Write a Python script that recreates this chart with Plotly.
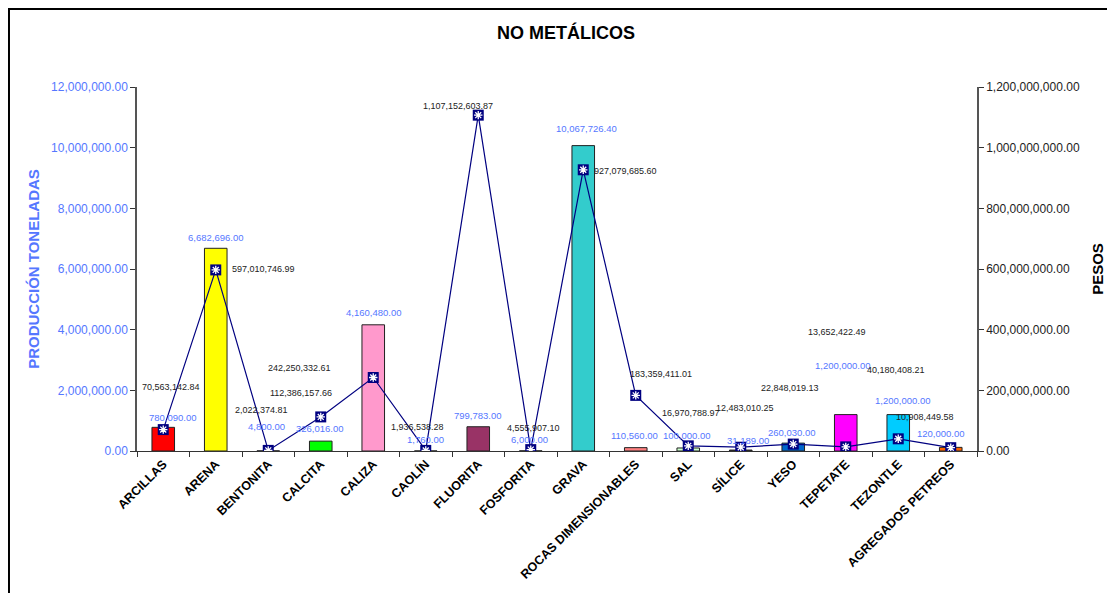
import plotly.graph_objects as go

categories = ["ARCILLAS", "ARENA", "BENTONITA", "CALCITA", "CALIZA", "CAOLÍN",
              "FLUORITA", "FOSFORITA", "GRAVA", "ROCAS DIMENSIONABLES", "SAL",
              "SÍLICE", "YESO", "TEPETATE", "TEZONTLE", "AGREGADOS PETREOS"]

toneladas = [780090.00, 6682696.00, 4800.00, 326016.00, 4160480.00, 1760.00,
             799783.00, 6000.00, 10067726.40, 110560.00, 100000.00,
             31189.00, 260030.00, 1200000.00, 1200000.00, 120000.00]

pesos = [70563142.84, 597010746.99, 2022374.81, 112386157.66, 242250332.61,
         1936538.28, 1107152603.87, 4555907.10, 927079685.60, 183359411.01,
         16970788.97, 12483010.25, 22848019.13, 13652422.49, 40180408.21,
         10908449.58]

bar_colors = ["#FF0000", "#FFFF00", "#9999FF", "#00FF00", "#FF99CC", "#FFFFCC",
              "#993366", "#CCFFFF", "#33CCCC", "#FF8080", "#CCFFCC",
              "#333333", "#0066CC", "#FF00FF", "#00CCFF", "#FF6600"]

# label placement offsets in pixels (dx, up) — styling only
ton_label_off = [(10, 10), (0, 11), (-2, 24), (-1, 13), (0, 12), (0, 11),
                 (0, 11), (-1, 11), (3, 17), (-1, 12), (-1, 12), (7, 10),
                 (-1, 11), (-3, 49), (4, 14), (-10, 14)]
peso_label_off = [(8, 43), (48, 1), (-7, 40), (-20, 24), (-74, 10), (-8, 23),
                  (-20, 9), (3, 22), (42, -1), (25, 21), (3, 33), (4, 39),
                  (-3, 56), (-9, 115), (-2, 69), (-26, 31)]

FONT = "Arial, 'Liberation Sans', sans-serif"
BLUE = "#5577FF"
NAVY = "#000080"

fig = go.Figure()
fig.add_trace(go.Bar(
    x=categories, y=toneladas, marker=dict(color=bar_colors, line=dict(color="#222222", width=1)),
    width=0.43, yaxis="y", showlegend=False, hoverinfo="skip"))
fig.add_trace(go.Scatter(
    x=categories, y=pesos, yaxis="y2", mode="lines+markers",
    line=dict(color=NAVY, width=1.2),
    marker=dict(symbol="square", size=11, color=NAVY, line=dict(width=0)),
    showlegend=False, hoverinfo="skip"))
fig.add_trace(go.Scatter(
    x=categories, y=pesos, yaxis="y2", mode="markers",
    marker=dict(symbol="asterisk-open", size=7, color="white", line=dict(color="white", width=1.3)),
    showlegend=False, hoverinfo="skip"))

annotations = []
for c, v, (dx, up) in zip(categories, toneladas, ton_label_off):
    annotations.append(dict(x=c, y=v, xref="x", yref="y", text=f"{v:,.2f}", showarrow=False,
                            xshift=dx, yshift=up, font=dict(family=FONT, size=9.5, color=BLUE)))
for c, v, (dx, up) in zip(categories, pesos, peso_label_off):
    annotations.append(dict(x=c, y=v, xref="x", yref="y2", text=f"{v:,.2f}", showarrow=False,
                            xshift=dx, yshift=up, font=dict(family=FONT, size=9, color="#222222")))

fig.update_layout(
    width=1115, height=593,
    margin=dict(l=129, r=146, t=79, b=150),
    paper_bgcolor="white", plot_bgcolor="white",
    font=dict(family=FONT),
    title=dict(text="<b>NO METÁLICOS</b>", x=0.5004, xanchor="center", y=0.958, yanchor="middle",
               font=dict(family=FONT, size=18, color="black")),
    xaxis=dict(type="category", range=[-0.5, len(categories) - 0.5],
               showline=True, linecolor="#333333", linewidth=1,
               ticks="outside", ticklen=5, tickcolor="#333333", tickson="boundaries",
               tickangle=-45, tickfont=dict(family=FONT, size=12.5, color="black", weight="bold"),
               showgrid=False, zeroline=False),
    yaxis=dict(range=[0, 12000000], dtick=2000000, tickformat=",.2f",
               showline=True, linecolor="#555555", linewidth=1.5, ticks="outside", ticklen=5,
               tickcolor="#333333", tickfont=dict(family=FONT, size=12, color=BLUE),
               showgrid=False, zeroline=False,
               title=dict(text="<b>PRODUCCIÓN TONELADAS</b>", standoff=8,
                          font=dict(family=FONT, size=15, color=BLUE))),
    yaxis2=dict(range=[0, 1200000000], dtick=200000000, tickformat=",.2f",
                overlaying="y", side="right",
                showline=True, linecolor="#555555", linewidth=1.5, ticks="outside", ticklen=5,
                tickcolor="#333333", tickfont=dict(family=FONT, size=12, color="#222222"),
                showgrid=False, zeroline=False,
                title=dict(text="<b>PESOS</b>", standoff=14,
                           font=dict(family=FONT, size=15, color="black"))),
    annotations=annotations,
    shapes=[dict(type="rect", xref="paper", yref="paper", x0=-0.1524, y0=-0.6, x1=1.3, y1=1.2143,
                 line=dict(color="black", width=2), fillcolor="rgba(0,0,0,0)", layer="below")],
)

fig.write_html("out.html")
